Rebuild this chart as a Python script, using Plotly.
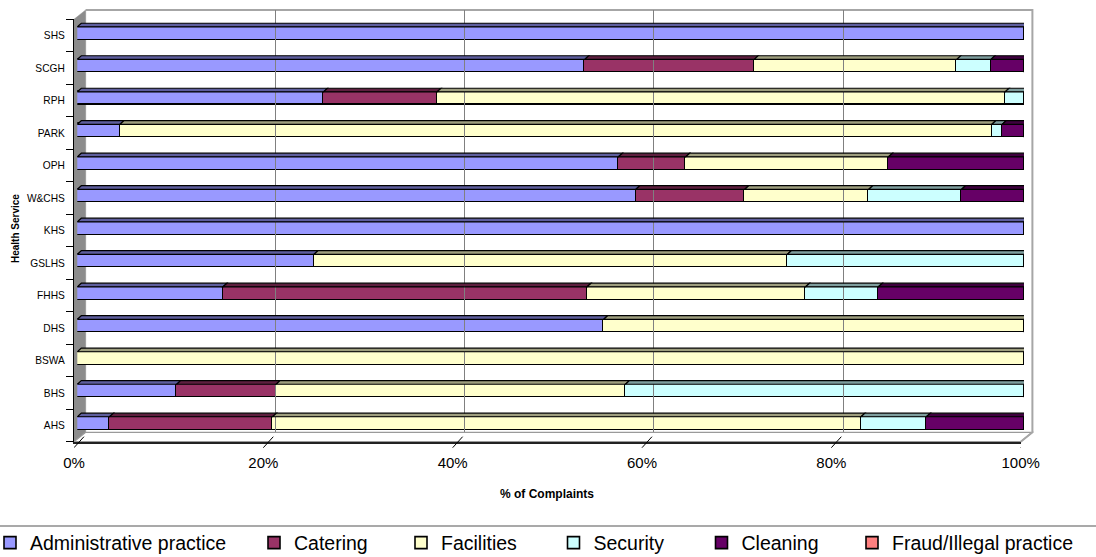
import plotly.graph_objects as go

# ---- data: share of complaints by type for each health service (bottom to top) ----
services = ["AHS", "BHS", "BSWA", "DHS", "FHHS", "GSLHS", "KHS",
            "W&CHS", "OPH", "PARK", "RPH", "SCGH", "SHS"]
administrative = [3.4, 10.5, 0, 55.6, 15.4, 25.0, 100, 59.0, 57.1, 4.5, 26.0, 53.6, 100]
catering = [17.2, 10.5, 0, 0, 38.5, 0, 0, 11.5, 7.1, 0, 12.0, 17.9, 0]
facilities = [62.1, 36.9, 100, 44.4, 23.1, 50.0, 0, 13.1, 21.4, 92.1, 60.0, 21.4, 0]
security = [6.9, 42.1, 0, 0, 7.7, 25.0, 0, 9.8, 0, 1.1, 2.0, 3.6, 0]
cleaning = [10.3, 0, 0, 0, 15.4, 0, 0, 6.6, 14.3, 2.3, 0, 3.5, 0]
fraud = [0, 0, 0, 0, 0, 0, 0, 0, 0, 0, 0, 0, 0]

series_names = ["Administrative practice", "Catering", "Facilities",
                "Security", "Cleaning", "Fraud/Illegal practice"]
series_values = [administrative, catering, facilities, security, cleaning, fraud]
series_colors = ["#9999FF", "#993366", "#FFFFCC", "#CCFFFF", "#660066", "#FF8080"]

x_ticks = [0, 20, 40, 60, 80, 100]

# ---- page geometry (pixels) ----
W, H = 1096, 557
FRONT_X0, FRONT_X1 = 74.0, 1020.7      # front edge of the floor
FRONT_Y0, FRONT_Y1 = 19.3, 441.7       # front plane top / bottom
DEPTH_X, DEPTH_Y = 11.7, 9.4           # offset of the back wall
BAR_DX, BAR_DY = 3.3, 2.2              # offset of the bar front faces
BAR_DEPTH_X, BAR_DEPTH_Y = 4.0, 3.6    # thickness of the bar boxes
BAR_WIDTH = 0.40
FONT = "Liberation Sans, Arial"


def fx(px):
    return px / W


def fy(py):
    return 1 - py / H


def shade(hex_color, k):
    r, g, b = (int(hex_color[i:i + 2], 16) for i in (1, 3, 5))
    return "#%02x%02x%02x" % (int(r * k), int(g * k), int(b * k))


n = len(services)
pos = list(range(n))

px_per_pct = (FRONT_X1 - FRONT_X0) / 100.0
px_per_row = (FRONT_Y1 - FRONT_Y0) / n
dx_data = BAR_DEPTH_X / px_per_pct
dy_data = BAR_DEPTH_Y / px_per_row

fig = go.Figure()

# stacked bars (front faces)
for i, (name, vals, col) in enumerate(zip(series_names, series_values, series_colors)):
    fig.add_trace(go.Bar(
        name=name, y=pos, x=vals, orientation="h", width=BAR_WIDTH,
        marker=dict(color=col, line=dict(color="#000000", width=1.6)),
        xaxis="x", yaxis="y", legend="legend" if i == 0 else "legend%d" % (i + 1),
        hoverinfo="skip",
    ))

# empty traces so the front and back planes get their own axes
fig.add_trace(go.Scatter(x=[None], y=[None], xaxis="x2", yaxis="y2",
                         showlegend=False, hoverinfo="skip"))
fig.add_trace(go.Scatter(x=[None], y=[None], xaxis="x3", yaxis="y3",
                         showlegend=False, hoverinfo="skip"))

shapes = []

# back wall, side wall and floor
bx0, bx1 = FRONT_X0 + DEPTH_X, FRONT_X1 + DEPTH_X
by0, by1 = FRONT_Y0 - DEPTH_Y, FRONT_Y1 - DEPTH_Y


def poly(points, fill, line_color, width=1.0, layer="below"):
    d = "M " + " L ".join("%.5f,%.5f" % (fx(x), fy(y)) for x, y in points) + " Z"
    return dict(type="path", xref="paper", yref="paper", path=d, fillcolor=fill,
                line=dict(color=line_color, width=width), layer=layer)


shapes.append(poly([(FRONT_X0, FRONT_Y0), (bx0, by0), (bx0, by1), (FRONT_X0, FRONT_Y1)],
                   "#8c8c8c", "#8c8c8c", 0.5))
shapes.append(poly([(FRONT_X0, FRONT_Y1), (bx0, by1), (bx1, by1), (FRONT_X1, FRONT_Y1)],
                   "#ffffff", "#9a9a9a", 1.2))
# back wall outline (top and right edges)
shapes.append(dict(type="path", xref="paper", yref="paper", layer="below",
                   path="M %.5f,%.5f L %.5f,%.5f L %.5f,%.5f L %.5f,%.5f" % (
                       fx(bx0), fy(by0), fx(bx1), fy(by0), fx(bx1), fy(by1),
                       fx(FRONT_X1), fy(FRONT_Y1)),
                   line=dict(color="#a6a6a6", width=2)))

# bar tops and end faces, built from the stacked values
totals = [sum(v[j] for v in series_values) for j in range(n)]
for j in range(n):
    cum = 0.0
    top = pos[j] + BAR_WIDTH / 2
    for vals, col in zip(series_values, series_colors):
        if vals[j] <= 0:
            continue
        x0 = cum / totals[j] * 100
        cum += vals[j]
        x1 = cum / totals[j] * 100
        shapes.append(dict(
            type="path", xref="x", yref="y",
            path="M %f,%f L %f,%f L %f,%f L %f,%f Z" % (
                x0, top, x1, top, x1 + dx_data, top + dy_data, x0 + dx_data, top + dy_data),
            fillcolor=shade(col, 0.62), line=dict(color="#000000", width=1.2)))
    # right-hand end face of the stack
    bot = pos[j] - BAR_WIDTH / 2
    shapes.append(dict(
        type="path", xref="x", yref="y",
        path="M %f,%f L %f,%f L %f,%f L %f,%f Z" % (
            100, bot, 100, top, 100 + dx_data, top + dy_data, 100 + dx_data, bot + dy_data),
        fillcolor=shade(series_colors[-1], 0.6), line=dict(color="#000000", width=1)))

# depth ticks on the floor
for t in x_ticks:
    shapes.append(dict(type="line", xref="x2", yref="paper",
                       x0=t, x1=t + DEPTH_X / px_per_pct * 0.85,
                       y0=fy(FRONT_Y1 + 6), y1=fy(FRONT_Y1 - 5),
                       line=dict(color="#000000", width=1)))

# legend frame line
shapes.append(dict(type="line", xref="paper", yref="paper", x0=0, x1=1,
                   y0=fy(526), y1=fy(526), line=dict(color="#555555", width=1.2)))

# one legend box per series so each entry sits at its own place along the bottom
legend_left = [-10, 254, 401, 553.5, 701.5, 852]
legends = {}
for i, lx in enumerate(legend_left):
    key = "legend" if i == 0 else "legend%d" % (i + 1)
    legends[key] = dict(x=fx(lx), y=fy(543), xanchor="left", yanchor="middle",
                        orientation="h", bgcolor="rgba(0,0,0,0)",
                        font=dict(family=FONT, size=19.5, color="#000000"),
                        itemwidth=30, tracegroupgap=0)

annotations = [
    dict(text="<b>% of Complaints</b>", xref="paper", yref="paper",
         x=fx((FRONT_X0 + FRONT_X1) / 2), y=fy(494), xanchor="center", yanchor="middle",
         showarrow=False, font=dict(family=FONT, size=12, color="#000000")),
    dict(text="<b>Health Service</b>", xref="paper", yref="paper",
         x=fx(15), y=fy(229), xanchor="center", yanchor="middle",
         showarrow=False, textangle=-90,
         font=dict(family=FONT, size=10, color="#000000")),
]

fig.update_layout(
    template="none",
    width=W, height=H,
    margin=dict(l=0, r=0, t=0, b=0, autoexpand=False),
    paper_bgcolor="#ffffff", plot_bgcolor="rgba(0,0,0,0)",
    barmode="stack", barnorm="percent", bargap=0,
    font=dict(family=FONT, color="#000000"),
    shapes=shapes, annotations=annotations,
    xaxis=dict(domain=[fx(FRONT_X0 + BAR_DX), fx(FRONT_X1 + BAR_DX)], range=[0, 100],
               anchor="y", visible=False, fixedrange=True, automargin=False),
    yaxis=dict(domain=[fy(FRONT_Y1 - BAR_DY), fy(FRONT_Y0 - BAR_DY)], range=[-0.5, n - 0.5],
               anchor="x", visible=False, fixedrange=True, automargin=False),
    xaxis2=dict(domain=[fx(FRONT_X0), fx(FRONT_X1)], range=[0, 100], anchor="y2",
                tickvals=x_ticks, ticktext=["%d%%" % t for t in x_ticks],
                ticks="outside", ticklen=7, tickcolor="rgba(0,0,0,0)",
                showline=True, linecolor="#222222", linewidth=1.5,
                showgrid=False, zeroline=False, automargin=False,
                tickfont=dict(size=15, family=FONT, color="#000000"),
                fixedrange=True),
    yaxis2=dict(domain=[fy(FRONT_Y1), fy(FRONT_Y0)], range=[-0.5, n - 0.5], anchor="x2",
                tickvals=pos, ticktext=services, ticks="outside", ticklen=6,
                tickcolor="rgba(0,0,0,0)", showgrid=False, zeroline=False,
                showline=True, linecolor="#000000", linewidth=1.3, automargin=False,
                minor=dict(tickvals=[k - 0.5 for k in range(n + 1)], ticks="outside",
                           ticklen=7, tickcolor="#000000", tickwidth=1.3, showgrid=False),
                tickfont=dict(size=10.2, family=FONT, color="#000000"),
                fixedrange=True),
    xaxis3=dict(domain=[fx(bx0), fx(bx1)], range=[0, 100], anchor="y3",
                tickvals=x_ticks, showticklabels=False, ticks="",
                showgrid=True, gridcolor="#808080", gridwidth=1.3, zeroline=False,
                automargin=False, fixedrange=True),
    yaxis3=dict(domain=[fy(by1), fy(by0)], range=[0, 1], anchor="x3", visible=False,
                automargin=False, fixedrange=True),
    **legends,
)

fig.write_html("out.html")
